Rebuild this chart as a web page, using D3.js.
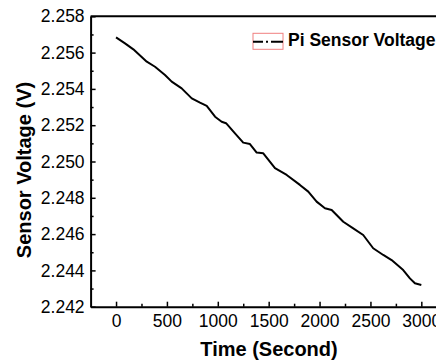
<!DOCTYPE html>
<html>
<head>
<meta charset="utf-8">
<script src="https://cdnjs.cloudflare.com/ajax/libs/d3/7.8.5/d3.min.js"></script>
<style>
  body { margin: 0; background: #fff; }
  svg { display: block; font-family: "Liberation Sans", Arial, sans-serif; }
</style>
</head>
<body>
<svg></svg>
<script>
// values
let times = [0, 88, 170, 302, 383, 481, 547, 645, 744, 825, 891, 973, 1038, 1081, 1169,
  1250, 1316, 1382, 1447, 1562, 1677, 1807, 1889, 1971, 2053, 2119, 2233, 2331, 2429,
  2527, 2626, 2708, 2822, 2888, 2937, 3000]
let voltages = [2.25684, 2.25651, 2.25618, 2.2555, 2.25522, 2.25477, 2.2544, 2.25403, 2.25348,
  2.25324, 2.25306, 2.25247, 2.25219, 2.25211, 2.25155, 2.25104, 2.25096, 2.25049, 2.25045,
  2.24963, 2.24926, 2.24871, 2.24834, 2.24779, 2.24742, 2.24733, 2.24668, 2.24632, 2.24595,
  2.24522, 2.24485, 2.24457, 2.24402, 2.24356, 2.24329, 2.2432]
let xTicks = [0, 500, 1000, 1500, 2000, 2500, 3000]
let xMinor = [250, 750, 1250, 1750, 2250, 2750]
let yTicks = [2.242, 2.244, 2.246, 2.248, 2.250, 2.252, 2.254, 2.256, 2.258]
let yMinor = [2.243, 2.245, 2.247, 2.249, 2.251, 2.253, 2.255, 2.257]
let seriesName = "Pi Sensor Voltage"

let width = 436
let height = 362
let plotLeft = 90.6
let plotTop = 16.3
let plotBottom = 306.7

let svg = d3.select("svg")
  .attr("width", width)
  .attr("height", height)

let xScale = d3.scaleLinear()
  .domain([-250, 3250])
  .range([plotLeft, plotLeft + 3500 * 50.88 / 500])

let yScale = d3.scaleLinear()
  .domain([2.242, 2.258])
  .range([plotBottom, plotTop])

let data = times.map((t, i) => ({ t: t, v: voltages[i] }))

// minor ticks first, then the major axes on top
svg.append("g")
  .attr("transform", "translate(0," + plotBottom + ")")
  .call(d3.axisBottom(xScale).tickValues(xMinor).tickFormat("").tickSizeInner(-3).tickSizeOuter(0))
  .call(g => g.select(".domain").remove())
  .selectAll("line").attr("stroke-width", 1.5)

svg.append("g")
  .attr("transform", "translate(" + plotLeft + ",0)")
  .call(d3.axisLeft(yScale).tickValues(yMinor).tickFormat("").tickSizeInner(-3).tickSizeOuter(0))
  .call(g => g.select(".domain").remove())
  .selectAll("line").attr("stroke-width", 1.5)

let xAxis = d3.axisBottom(xScale)
  .tickValues(xTicks)
  .tickFormat(d3.format("d"))
  .tickSizeInner(-5)
  .tickSizeOuter(0)
  .tickPadding(8)

let yAxis = d3.axisLeft(yScale)
  .tickValues(yTicks)
  .tickFormat(d3.format(".3f"))
  .tickSizeInner(-5)
  .tickSizeOuter(0)
  .tickPadding(6)

svg.append("g")
  .attr("id", "x-axis")
  .attr("transform", "translate(0," + plotBottom + ")")
  .call(xAxis)

svg.append("g")
  .attr("id", "y-axis")
  .attr("transform", "translate(" + plotLeft + ",0)")
  .call(yAxis)

svg.selectAll("#x-axis text, #y-axis text")
  .attr("font-size", 17.5)
  .attr("font-family", "Liberation Sans, Arial, sans-serif")
  .attr("fill", "#000")
svg.selectAll("#x-axis line, #y-axis line").attr("stroke-width", 1.5)
svg.selectAll(".domain").attr("stroke-width", 2)

// top frame
svg.append("line")
  .attr("x1", plotLeft)
  .attr("x2", xScale(3250))
  .attr("y1", plotTop)
  .attr("y2", plotTop)
  .attr("stroke", "#000")
  .attr("stroke-width", 2)

let line = d3.line()
  .x(d => xScale(d.t))
  .y(d => yScale(d.v))

svg.append("path")
  .datum(data)
  .attr("d", line)
  .attr("fill", "none")
  .attr("stroke", "#000")
  .attr("stroke-width", 2)
  .attr("stroke-linejoin", "round")

// axis titles
svg.append("text")
  .text("Time (Second)")
  .attr("x", 269)
  .attr("y", 356)
  .attr("text-anchor", "middle")
  .attr("font-size", 20)
  .attr("font-weight", "bold")

svg.append("text")
  .text("Sensor Voltage (V)")
  .attr("transform", "translate(31,170) rotate(-90)")
  .attr("text-anchor", "middle")
  .attr("font-size", 20)
  .attr("font-weight", "bold")

// legend
let legend = svg.append("g").attr("transform", "translate(253,33.3)")
legend.append("rect")
  .attr("width", 30)
  .attr("height", 16)
  .attr("fill", "none")
  .attr("stroke", "#f08080")
  .attr("stroke-width", 1)
legend.append("line")
  .attr("x1", 0)
  .attr("x2", 30)
  .attr("y1", 8.4)
  .attr("y2", 8.4)
  .attr("stroke", "#000")
  .attr("stroke-width", 2)
  .attr("stroke-dasharray", "10,3,2,3,12")
legend.append("text")
  .text(seriesName)
  .attr("x", 35)
  .attr("y", 12.6)
  .attr("font-size", 17.5)
  .attr("font-weight", "bold")
</script>
</body>
</html>
